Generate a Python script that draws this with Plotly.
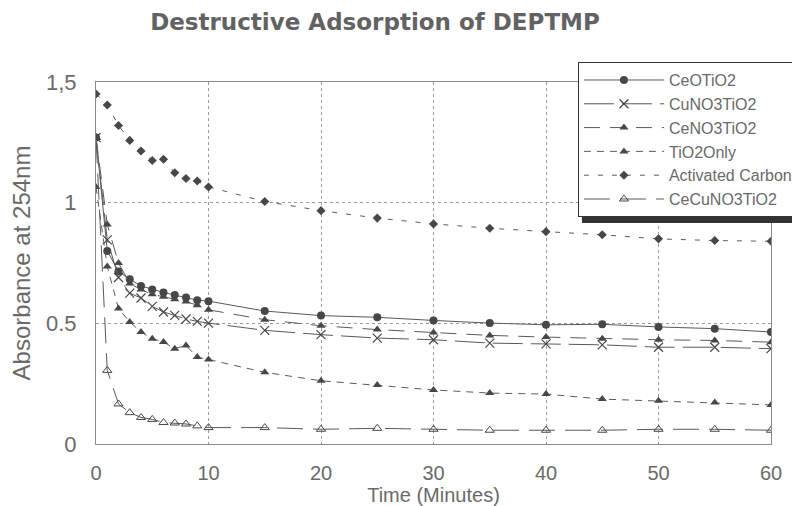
import plotly.graph_objects as go

time = [0, 1, 2, 3, 4, 5, 6, 7, 8, 9, 10, 15, 20, 25, 30, 35, 40, 45, 50, 55, 60]

ce_o_tio2 = [1.27, 0.80, 0.715, 0.683, 0.655, 0.64, 0.628, 0.617, 0.607, 0.596, 0.592,
             0.551, 0.532, 0.525, 0.512, 0.501, 0.494, 0.496, 0.485, 0.478, 0.464]
cu_no3_tio2 = [1.27, 0.846, 0.69, 0.625, 0.605, 0.57, 0.547, 0.533, 0.518, 0.508, 0.501,
               0.471, 0.453, 0.439, 0.432, 0.418, 0.415, 0.411, 0.401, 0.401, 0.395]
ce_no3_tio2 = [1.27, 0.91, 0.75, 0.665, 0.64, 0.62, 0.61, 0.60, 0.59, 0.575, 0.556,
               0.515, 0.49, 0.474, 0.462, 0.45, 0.443, 0.436, 0.432, 0.429, 0.422]
tio2_only = [1.065, 0.735, 0.561, 0.506, 0.464, 0.436, 0.423, 0.395, 0.408, 0.36, 0.35,
             0.297, 0.262, 0.244, 0.224, 0.211, 0.207, 0.186, 0.179, 0.172, 0.162]
activated_carbon = [1.45, 1.405, 1.32, 1.258, 1.214, 1.175, 1.18, 1.124, 1.10, 1.09, 1.065,
                    1.005, 0.967, 0.936, 0.912, 0.894, 0.88, 0.867, 0.85, 0.843, 0.84]
ce_cu_no3_tio2 = [1.27, 0.305, 0.166, 0.13, 0.11, 0.102, 0.089, 0.087, 0.083, 0.075, 0.068,
                  0.068, 0.061, 0.065, 0.061, 0.057, 0.057, 0.057, 0.061, 0.061, 0.057]

x_ticks = [0, 10, 20, 30, 40, 50, 60]
y_ticks = [0, 0.5, 1, 1.5]
y_ticktext = ["0", "0.5", "1", "1,5"]

LINE = "#5a5a5a"
MARK = "#474747"
TEXT = "#6a6a6a"

# page body has an 8px margin, so the figure is drawn 8px in from the top-left
W, H = 792, 498

series = [
    ("CeOTiO2", ce_o_tio2, "solid", dict(symbol="circle", size=8, color=MARK)),
    ("CuNO3TiO2", cu_no3_tio2, "30px,8px",
     dict(symbol="x-thin-open", size=9, color=MARK, line=dict(width=1.2, color=MARK))),
    ("CeNO3TiO2", ce_no3_tio2, "16px,10px", dict(symbol="triangle-up", size=8, color=MARK)),
    ("TiO2Only", tio2_only, "7px,6px", dict(symbol="triangle-up", size=8, color=MARK)),
    ("Activated Carbon", activated_carbon, "5px,9px", dict(symbol="diamond", size=7, color=MARK)),
    ("CeCuNO3TiO2", ce_cu_no3_tio2, "26px,10px",
     dict(symbol="triangle-up-open", size=8, color=MARK, line=dict(width=1, color=MARK))),
]

fig = go.Figure()
for name, vals, dash, marker in series:
    fig.add_trace(go.Scatter(
        x=time, y=vals, name=name, mode="lines+markers",
        line=dict(color=LINE, width=1, dash=dash),
        marker=marker,
    ))

fig.update_layout(
    width=W, height=H,
    margin=dict(l=88, r=29, t=74, b=62, autoexpand=False),
    paper_bgcolor="white", plot_bgcolor="white",
    font=dict(family="Liberation Sans, Arial, sans-serif", color=TEXT),
    title=dict(text="Destructive Adsorption of DEPTMP",
               font=dict(family="DejaVu Sans", size=23, color="#626262", weight="bold"),
               x=367 / W, xanchor="center", y=1 - 14 / H, yanchor="middle"),
    showlegend=True,
    legend=dict(x=0.714, xanchor="left", y=1.055, yanchor="top",
                bgcolor="white", bordercolor="#333333", borderwidth=1,
                font=dict(size=16, color=TEXT), itemwidth=80,
                traceorder="normal"),
    shapes=[dict(type="rect", xref="paper", yref="paper",
                 x0=0.714 + 4 / 675, x1=1 + 40 / 675,
                 y0=1.055 - 161 / 362, y1=1.055 - 4 / 362,
                 fillcolor="#333333", line=dict(width=0), layer="above")],
)

fig.update_xaxes(range=[0, 60], tickvals=x_ticks, showgrid=True, griddash="dot",
                 gridcolor="#9a9a9a", gridwidth=1, zeroline=False, automargin=False,
                 showline=True, linecolor="#8a8a8a", linewidth=1, mirror=True,
                 ticks="", ticklabelstandoff=11,
                 tickfont=dict(size=20, color=TEXT),
                 title=dict(text="Time (Minutes)", font=dict(size=20, color=TEXT), standoff=4))
fig.update_yaxes(range=[0, 1.5], tickvals=y_ticks, ticktext=y_ticktext, showgrid=True,
                 griddash="dot", gridcolor="#9a9a9a", gridwidth=1, zeroline=False,
                 automargin=False,
                 showline=True, linecolor="#8a8a8a", linewidth=1, mirror=True,
                 ticks="", ticklabelstandoff=14,
                 tickfont=dict(size=22, color=TEXT),
                 title=dict(text="Absorbance at 254nm", font=dict(size=24, color=TEXT), standoff=10))

fig.write_html("out.html")
